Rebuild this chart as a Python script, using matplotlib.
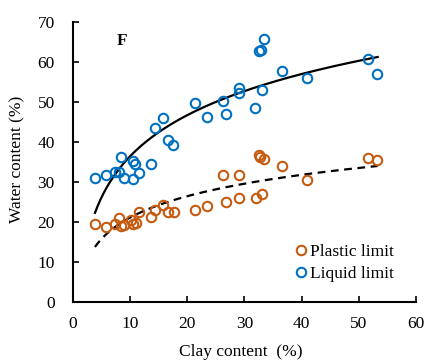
import numpy as np
import matplotlib
matplotlib.use("Agg")
import matplotlib.pyplot as plt

# clay content (%) and Atterberg limits
liquid_clay = [3.9, 5.8, 7.3, 8.1, 8.4, 8.9, 10.5, 10.9, 10.5, 11.6, 13.6, 14.3, 15.8, 16.7,
               17.5, 21.3, 23.4, 26.2, 26.8, 29.0, 29.0, 31.9, 32.6, 32.9, 33.4, 33.1, 36.6,
               41.0, 51.6, 53.2]
liquid_limit = [30.9, 31.8, 32.6, 32.6, 36.3, 30.9, 35.3, 34.5, 30.8, 32.3, 34.4, 43.5, 45.9, 40.6,
                39.2, 49.7, 46.3, 50.3, 47.0, 53.4, 52.3, 48.4, 62.7, 63.0, 65.8, 52.9, 57.8,
                56.0, 60.8, 57.0]

plastic_clay = [3.9, 5.8, 7.3, 8.1, 8.4, 8.9, 10.1, 10.5, 11.1, 11.6, 13.6, 14.3, 15.8, 16.7,
                17.7, 21.3, 23.4, 26.2, 26.8, 29.0, 29.0, 32.0, 33.1, 32.6, 32.8, 33.4, 36.6,
                41.0, 51.6, 53.2]
plastic_limit = [19.5, 18.9, 19.6, 21.0, 19.1, 19.4, 20.6, 19.6, 19.9, 22.4, 21.2, 22.9, 24.2, 22.5,
                 22.4, 23.1, 23.9, 31.8, 24.9, 31.8, 26.1, 25.9, 27.1, 36.7, 36.2, 35.7, 34.0,
                 30.5, 36.1, 35.4]

# logarithmic trendlines y = a*ln(x) + b
liquid_fit = (14.8, 2.35)
plastic_fit = (7.69, 3.43)
fit_range = (3.85, 53.3)

orange = '#C55A11'
blue = '#0070C0'

plt.rcParams['font.family'] = ['Liberation Serif', 'DejaVu Serif']
plt.rcParams['font.size'] = 12.5

fig = plt.figure(figsize=(4.24, 3.62), dpi=100)
ax = fig.add_axes([0.172, 0.165, 0.809, 0.775])

xs = np.linspace(fit_range[0], fit_range[1], 200)
ax.plot(xs, liquid_fit[0] * np.log(xs) + liquid_fit[1], color='black', lw=1.6)
ax.plot(xs, plastic_fit[0] * np.log(xs) + plastic_fit[1], color='black', lw=1.6,
        ls=(0, (3.5, 2.5)))

ax.plot(plastic_clay, plastic_limit, 'o', mfc='none', mec=orange, mew=1.5, ms=6.8,
        label='Plastic limit')
ax.plot(liquid_clay, liquid_limit, 'o', mfc='none', mec=blue, mew=1.5, ms=6.8,
        label='Liquid limit')

ax.set_xlim(0, 60)
ax.set_ylim(0, 70)
ax.set_xticks(range(0, 61, 10))
ax.set_yticks(range(0, 71, 10))
ax.tick_params(direction='in', length=4, width=1.2)
ax.tick_params(axis='x', pad=10)
ax.tick_params(axis='y', pad=13)
for s in ['top', 'right']:
    ax.spines[s].set_visible(False)
for s in ['left', 'bottom']:
    ax.spines[s].set_linewidth(1.5)

ax.set_xlabel('Clay content  (%)', va='center')
ax.xaxis.set_label_coords(0.49, -0.176)
ax.set_ylabel('Water content (%)', va='center')
ax.yaxis.set_label_coords(-0.162, 0.51)
ax.text(8.6, 65.3, 'F', fontweight='bold', ha='center', va='center')

ax.legend(loc='center left', bbox_to_anchor=(0.61, 0.14), frameon=False,
          handletextpad=0.1, handlelength=0.8, labelspacing=0.3, borderpad=0.2)

fig.savefig('out.png', dpi=100)
